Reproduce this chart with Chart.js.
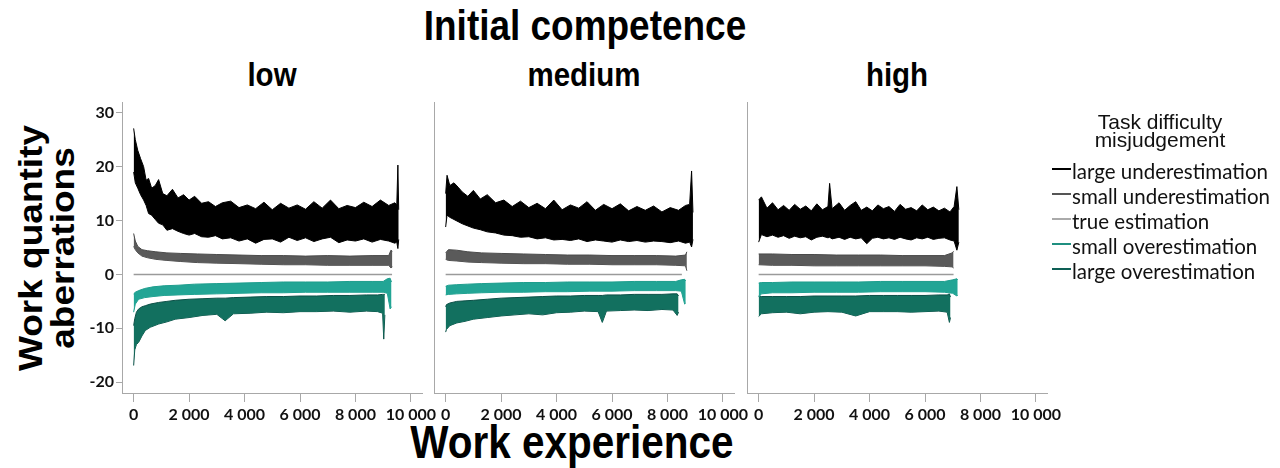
<!DOCTYPE html>
<html>
<head>
<meta charset="utf-8">
<script src="https://cdn.jsdelivr.net/npm/chart.js@4.4.1/dist/chart.umd.min.js"></script>
<style>
  html, body { margin: 0; padding: 0; background: #fff; }
  #page { position: relative; width: 1280px; height: 468px; overflow: hidden; background: #fff; }
  .panel { position: absolute; top: 90px; width: 400px; height: 340px; }
  .txt { position: absolute; white-space: nowrap; text-align: center; color: #000;
         font-family: "Liberation Sans", Arial, sans-serif; font-weight: bold; }
  .leg { position: absolute; white-space: nowrap; font-family: Lato, sans-serif; font-size: 20.5px; color: #111; line-height: 25px; }
  .mark { position: absolute; width: 19px; height: 2px; left: 1052px; }
</style>
</head>
<body>
<div id="page">
  <div class="txt" style="left:285px;width:600px;top:5px;font-size:42px;line-height:42px;transform:scaleX(0.88)">Initial competence</div>
  <div class="txt" style="left:72px;width:400px;top:58px;font-size:33.5px;line-height:34px;transform:scaleX(0.88)">low</div>
  <div class="txt" style="left:384px;width:400px;top:58px;font-size:33.5px;line-height:34px;transform:scaleX(0.88)">medium</div>
  <div class="txt" style="left:697px;width:400px;top:58px;font-size:33.5px;line-height:34px;transform:scaleX(0.88)">high</div>
  <div class="txt" style="left:272px;width:600px;top:419px;font-size:46px;line-height:46px;transform:scaleX(0.88)">Work experience</div>
  <div class="txt" style="left:-113px;width:320px;top:211px;height:74px;font-size:37px;line-height:37px;transform:rotate(-90deg) scaleY(0.88)">Work quantity<br>aberrations</div>

  <div class="panel" id="p1" style="left:60px"><canvas id="c1" width="400" height="340"></canvas></div>
  <div class="panel" id="p2" style="left:372px"><canvas id="c2" width="400" height="340"></canvas></div>
  <div class="panel" id="p3" style="left:685px"><canvas id="c3" width="400" height="340"></canvas></div>

  <div id="legend"></div>
</div>
<script>
// x positions are work experience, y values are work quantity aberrations
// each band = upper and lower edge of the noisy series
const xTicks = [0, 2000, 4000, 6000, 8000, 10000];
const xTickLabels = ['0', '2 000', '4 000', '6 000', '8 000', '10 000'];
const yTicks = [-20, -10, 0, 10, 20, 30];
const yTickLabels = ['-20', '-10', '0', '10', '20', '30'];
const panelNames = ['low', 'medium', 'high'];
const seriesNames = ['large underestimation', 'small underestimation', 'true estimation', 'small overestimation', 'large overestimation'];

// --- low initial competence
const luLowX = [0, 60, 150, 250, 360, 450, 540, 650, 780, 900, 1050, 1200, 1400, 1600, 1800, 2000, 2200, 2450, 2700, 2950, 3200, 3500, 3800, 4100, 4400, 4700, 5000, 5300, 5600, 5900, 6200, 6500, 6800, 7100, 7400, 7700, 8000, 8300, 8600, 8900, 9200, 9420, 9490, 9530, 9560];
const luLowHi = [27.1, 25.0, 23.0, 21.5, 20.0, 17.5, 17.8, 16.0, 16.5, 17.6, 15.0, 14.6, 15.8, 14.2, 14.8, 13.8, 14.5, 13.2, 13.5, 12.6, 13.3, 13.6, 12.4, 12.9, 12.2, 13.4, 12.0, 13.2, 12.3, 12.9, 12.1, 13.5, 12.3, 13.8, 12.2, 12.8, 12.4, 13.4, 12.6, 13.8, 12.8, 13.3, 12.9, 20.3, 12.0];
const luLowLo = [19.0, 17.0, 16.0, 14.8, 13.8, 12.8, 11.3, 11.0, 10.2, 9.5, 9.2, 8.2, 8.5, 8.0, 7.6, 7.3, 7.6, 7.0, 6.9, 7.2, 6.6, 6.8, 6.2, 6.6, 5.8, 6.5, 6.6, 6.0, 6.9, 6.3, 6.8, 6.1, 6.6, 6.9, 5.9, 6.4, 6.2, 6.6, 6.0, 6.5, 6.2, 5.8, 6.0, 4.8, 6.5];
const suLowX = [0, 60, 150, 300, 500, 800, 1200, 1700, 2300, 3000, 3800, 4600, 5400, 6200, 7000, 7800, 8600, 9200, 9280, 9330];
const suLowHi = [7.6, 6.2, 5.2, 4.6, 4.4, 4.2, 4.0, 3.9, 3.8, 3.7, 3.6, 3.5, 3.5, 3.4, 3.5, 3.4, 3.5, 3.5, 4.5, 4.3];
const suLowLo = [5.2, 4.6, 4.0, 3.4, 3.1, 2.8, 2.6, 2.4, 2.2, 2.1, 2.0, 1.9, 1.8, 1.8, 1.7, 1.7, 1.7, 1.7, 1.2, 1.4];
const soLowX = [0, 60, 180, 400, 700, 1100, 1600, 2200, 3000, 3800, 4600, 5400, 6200, 7000, 7800, 8600, 9000, 9150, 9250, 9300];
const soLowHi = [-3.6, -3.3, -3.0, -2.6, -2.3, -2.1, -2.0, -1.8, -1.7, -1.6, -1.5, -1.4, -1.4, -1.4, -1.3, -1.3, -1.3, -0.8, -0.7, -1.4];
const soLowLo = [-7.0, -5.5, -4.6, -4.3, -4.1, -3.9, -3.8, -3.7, -3.6, -3.5, -3.4, -3.4, -3.3, -3.3, -3.3, -3.3, -3.3, -3.5, -6.4, -6.0];
const loLowX = [0, 40, 100, 180, 300, 420, 600, 900, 1200, 1500, 2000, 2500, 3000, 3300, 3600, 4200, 4800, 5400, 6000, 6600, 7200, 7800, 8400, 8800, 8980, 9020, 9060];
const loLowHi = [-9.5, -8.2, -7.0, -6.4, -6.0, -5.8, -5.5, -5.2, -5.0, -4.8, -4.6, -4.5, -4.4, -4.4, -4.3, -4.2, -4.1, -4.1, -4.0, -4.0, -3.9, -3.9, -3.8, -3.8, -3.7, -3.7, -3.7];
const loLowLo = [-16.9, -14.0, -13.0, -12.6, -11.4, -10.4, -9.8, -9.2, -8.8, -8.3, -8.0, -7.6, -7.4, -8.6, -7.3, -7.2, -7.0, -7.1, -6.9, -6.9, -6.8, -7.0, -6.8, -6.9, -7.2, -12.0, -7.5];

// --- medium initial competence
const luMedX = [0, 50, 150, 300, 450, 600, 800, 1000, 1250, 1500, 1800, 2100, 2400, 2700, 3000, 3300, 3600, 3900, 4200, 4500, 4800, 5100, 5400, 5700, 6000, 6300, 6600, 6900, 7200, 7500, 7800, 8100, 8400, 8650, 8800, 8870, 8920];
const luMedHi = [15.0, 18.4, 16.5, 17.0, 16.2, 15.3, 14.5, 15.6, 14.0, 14.8, 13.3, 13.8, 12.6, 13.6, 12.4, 13.2, 12.2, 13.8, 12.0, 12.9, 12.3, 13.5, 11.9, 13.0, 12.2, 13.1, 11.8, 12.6, 11.9, 12.7, 11.6, 12.4, 11.9, 12.8, 13.0, 19.2, 11.5];
const luMedLo = [8.8, 11.0, 10.6, 10.2, 9.8, 9.4, 9.0, 8.6, 8.3, 7.9, 7.7, 7.3, 7.2, 6.9, 7.0, 6.6, 6.8, 6.4, 6.5, 6.3, 6.6, 6.1, 6.4, 6.2, 6.0, 6.4, 6.1, 6.3, 6.0, 6.2, 6.1, 5.9, 6.2, 5.8, 6.0, 5.1, 6.5];
const suMedX = [0, 100, 400, 800, 1300, 2000, 2800, 3600, 4400, 5200, 6000, 6800, 7600, 8300, 8650, 8700];
const suMedHi = [4.0, 4.6, 4.5, 4.2, 4.0, 3.9, 3.8, 3.7, 3.6, 3.6, 3.5, 3.5, 3.5, 3.4, 3.6, 4.2];
const suMedLo = [2.8, 2.6, 2.5, 2.3, 2.2, 2.1, 2.0, 2.0, 1.9, 1.9, 1.8, 1.8, 1.8, 1.7, 1.6, 0.7];
const soMedX = [0, 100, 400, 800, 1300, 2000, 2800, 3600, 4400, 5200, 6000, 6800, 7600, 8300, 8500, 8620, 8660];
const soMedHi = [-2.2, -2.0, -1.9, -1.8, -1.7, -1.6, -1.5, -1.5, -1.4, -1.4, -1.4, -1.3, -1.3, -1.3, -1.0, -0.9, -1.2];
const soMedLo = [-3.8, -3.7, -3.6, -3.5, -3.4, -3.3, -3.3, -3.2, -3.2, -3.1, -3.1, -3.0, -3.0, -3.0, -3.1, -5.5, -5.3];
const loMedX = [0, 30, 150, 400, 700, 1000, 1500, 2000, 2500, 3000, 3500, 4000, 4500, 5000, 5500, 5650, 5800, 6300, 6800, 7300, 7800, 8200, 8350, 8400];
const loMedHi = [-6.0, -5.6, -5.3, -5.0, -4.9, -4.8, -4.6, -4.4, -4.3, -4.2, -4.1, -4.0, -4.0, -3.9, -3.9, -3.9, -3.8, -3.8, -3.7, -3.7, -3.7, -3.6, -3.6, -4.0];
const loMedLo = [-10.7, -10.2, -9.5, -9.0, -8.7, -8.3, -8.0, -7.7, -7.5, -7.3, -7.5, -7.1, -7.0, -6.8, -6.9, -8.9, -6.8, -6.7, -6.6, -6.7, -6.5, -6.6, -7.6, -7.0];

// --- high initial competence
const luHighX = [0, 100, 300, 500, 700, 900, 1100, 1300, 1500, 1700, 1900, 2100, 2300, 2500, 2560, 2650, 2900, 3100, 3300, 3500, 3700, 3900, 4100, 4300, 4500, 4700, 4900, 5100, 5300, 5500, 5700, 5900, 6100, 6300, 6500, 6700, 6900, 7050, 7150, 7220];
const luHighHi = [13.8, 14.4, 12.3, 13.3, 12.0, 12.8, 11.9, 13.0, 12.1, 12.7, 11.8, 13.1, 12.0, 12.6, 16.9, 12.2, 13.3, 11.9, 12.8, 13.5, 11.9, 12.5, 11.8, 12.9, 12.2, 12.6, 11.7, 13.0, 12.1, 12.4, 11.8, 12.9, 12.0, 12.5, 11.8, 12.3, 11.6, 12.6, 16.3, 12.0];
const luHighLo = [6.0, 7.4, 7.0, 7.3, 6.9, 7.2, 6.7, 7.1, 6.8, 7.0, 6.4, 6.9, 7.1, 6.8, 6.9, 6.6, 6.9, 6.5, 6.9, 6.6, 6.8, 5.7, 6.7, 6.9, 6.6, 6.8, 6.5, 6.9, 6.6, 6.4, 6.8, 6.6, 6.9, 6.5, 6.7, 6.8, 6.4, 6.2, 4.5, 6.0];
const suHighX = [0, 500, 1200, 2000, 2800, 3600, 4400, 5200, 6000, 6700, 6980, 7030];
const suHighHi = [3.8, 3.8, 3.7, 3.7, 3.6, 3.6, 3.6, 3.5, 3.5, 3.5, 4.0, 4.3];
const suHighLo = [1.8, 1.7, 1.7, 1.6, 1.6, 1.6, 1.6, 1.6, 1.6, 1.5, 1.4, 1.2];
const soHighX = [0, 100, 500, 1200, 2000, 2800, 3600, 4400, 5200, 6000, 6700, 7000, 7150, 7180];
const soHighHi = [-1.6, -1.5, -1.5, -1.4, -1.4, -1.4, -1.4, -1.3, -1.3, -1.3, -1.3, -1.0, -0.8, -1.0];
const soHighLo = [-4.2, -3.6, -3.4, -3.4, -3.3, -3.3, -3.3, -3.2, -3.2, -3.2, -3.3, -3.5, -4.0, -3.8];
const loHighX = [0, 100, 500, 1000, 1500, 2000, 2500, 3000, 3500, 4000, 4500, 5000, 5500, 6000, 6500, 6800, 6880, 6920];
const loHighHi = [-4.0, -4.1, -4.1, -4.1, -4.1, -4.0, -4.0, -4.0, -4.0, -3.9, -3.9, -3.9, -3.9, -3.9, -3.8, -3.8, -3.6, -4.2];
const loHighLo = [-7.8, -7.3, -7.1, -7.0, -7.3, -7.0, -6.9, -7.0, -7.7, -6.9, -6.9, -6.9, -7.0, -6.9, -6.8, -7.0, -8.9, -8.0];

// true estimation stays on 0, only its length differs
const trueEnds = [9320, 8520, 7030];

// styles (order: large under, small under, small over, large over)
const bandLine = ['#000000', '#4a4a4a', '#1e9d8d', '#0b4f46'];
const bandFill = ['#000000', '#5a5a5a', '#22a595', '#12705f'];
const legendColors = ['#000000', '#555555', '#aaaaaa', '#1f8f80', '#0e5f55'];

const axisGrey = '#a8a8a8';
const tickFont = { family: 'Lato', weight: 'bold', size: 16 };

function pts(xs, ys) {
  return xs.map((x, i) => ({ x: x, y: ys[i] }));
}

function makePanel(id, bands, trueEnd, showY) {
  const datasets = [];
  bands.forEach((b, i) => {
    datasets.push({ data: pts(b[0], b[1]), borderColor: bandLine[i], backgroundColor: bandFill[i],
      fill: '+1', borderWidth: 1, pointRadius: 0, tension: 0 });
    datasets.push({ data: pts(b[0], b[2]), borderColor: bandLine[i], fill: false,
      borderWidth: 1, pointRadius: 0, tension: 0 });
  });
  datasets.push({ data: [{ x: 0, y: 0 }, { x: trueEnd, y: 0 }], borderColor: '#9a9a9a',
    borderWidth: 1.5, fill: false, pointRadius: 0 });

  new Chart(document.getElementById(id), {
    type: 'line',
    data: { datasets: datasets },
    options: {
      responsive: false,
      animation: false,
      layout: { padding: { left: 0, right: 38, top: 12, bottom: 0 } },
      plugins: { legend: { display: false }, tooltip: { enabled: false } },
      scales: {
        x: {
          type: 'linear', min: -420, max: 10400,
          afterBuildTicks: s => { s.ticks = xTicks.map(v => ({ value: v })); },
          afterFit: s => { s.height = 37; },
          ticks: { autoSkip: false, maxRotation: 0, padding: 3, color: '#111', font: tickFont,
            callback: (v, i) => xTickLabels[i] },
          grid: { drawOnChartArea: false, drawTicks: true, tickLength: 9, color: axisGrey },
          border: { color: axisGrey, width: 1 }
        },
        y: {
          type: 'linear', min: -22, max: 32,
          afterBuildTicks: s => { s.ticks = yTicks.map(v => ({ value: v })); },
          afterFit: s => { s.width = 62; },
          ticks: { display: showY, padding: 2, color: '#111', font: tickFont,
            callback: (v, i) => yTickLabels[i] },
          grid: { drawOnChartArea: false, drawTicks: showY, tickLength: 6, color: axisGrey },
          border: { color: axisGrey, width: 1 }
        }
      }
    }
  });
}

makePanel('c1', [[luLowX, luLowHi, luLowLo], [suLowX, suLowHi, suLowLo], [soLowX, soLowHi, soLowLo], [loLowX, loLowHi, loLowLo]], trueEnds[0], true);
makePanel('c2', [[luMedX, luMedHi, luMedLo], [suMedX, suMedHi, suMedLo], [soMedX, soMedHi, soMedLo], [loMedX, loMedHi, loMedLo]], trueEnds[1], false);
makePanel('c3', [[luHighX, luHighHi, luHighLo], [suHighX, suHighHi, suHighLo], [soHighX, soHighHi, soHighLo], [loHighX, loHighHi, loHighLo]], trueEnds[2], false);

// legend on the right
const leg = document.getElementById('legend');
let html = '<div style="position:absolute;left:1060px;width:200px;top:113px;text-align:center;font-family:\'Liberation Sans\',Arial,sans-serif;font-size:21px;line-height:18px;color:#111">Task difficulty<br>misjudgement</div>';
const rowCenters = [169, 194, 219, 244, 269];
seriesNames.forEach((n, i) => {
  const c = rowCenters[i];
  html += '<div class="mark" style="top:' + (c - 1) + 'px;background:' + legendColors[i] + '"></div>';
  html += '<div class="leg" style="left:1072px;top:' + (c - 10) + 'px">' + n + '</div>';
});
leg.innerHTML = html;
</script>
</body>
</html>
